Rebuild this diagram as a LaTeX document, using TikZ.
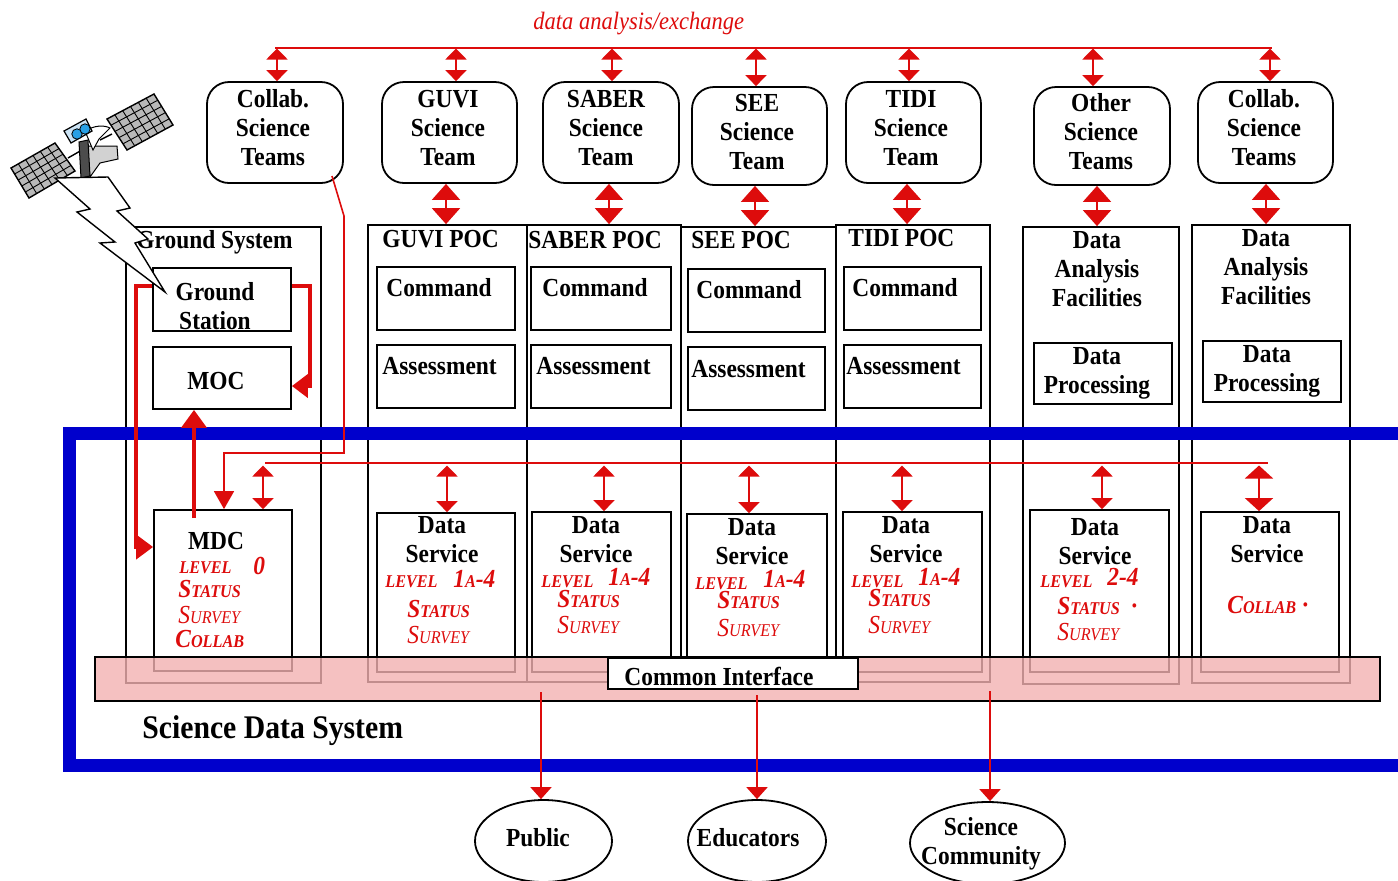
\documentclass[tikz,border=0pt]{standalone}
\usepackage{fontspec}
\setmainfont{Liberation Serif}[FakeStretch=0.9]
\usetikzlibrary{arrows.meta,fit,calc,shapes.geometric}
\definecolor{myred}{RGB}{221,12,12}
\definecolor{myblue}{RGB}{0,0,204}
\definecolor{pinkc}{RGB}{242,177,177}
\definecolor{panelgray}{RGB}{185,185,185}
\definecolor{satblue}{RGB}{40,160,230}
\definecolor{satlblue}{RGB}{205,228,245}
\newcommand\lblfont{\bfseries\fontsize{13}{14.5}\selectfont}
\newcommand\bigsc{\fontsize{13}{14}\selectfont}
\newcommand\smsc{\fontsize{9}{10}\selectfont}
\newcommand\rlevel{{\smsc LEVEL}}
\newcommand\ronea{{\bigsc 1}{\smsc A}{\bigsc -4}}
\newcommand\rstatus{{\bigsc S}{\smsc TATUS}}
\newcommand\rsurvey{{\mdseries\bigsc S}{\mdseries\smsc URVEY}}
\newcommand\rcollab{{\bigsc C}{\smsc OLLAB}}
\begin{document}
\begin{tikzpicture}[x=0.5pt,y=-0.5pt,
  col/.style={draw=black,line width=0.9pt,inner sep=0pt},
  box/.style={draw=black,line width=0.9pt,inner sep=0pt,fill=white},
  team/.style={draw=black,line width=0.9pt,inner sep=0pt,fill=white,rounded corners=11pt},
  lbl/.style={font=\lblfont,align=center,inner sep=0pt},
  lblw/.style={font=\lblfont,inner sep=0pt,anchor=base west},
  rtxt/.style={text=myred,font=\bfseries\itshape,inner sep=0pt,anchor=base west},
  thinr/.style={draw=myred,line width=1pt},
  thickr/.style={draw=myred,line width=2pt},
  dbls/.style={thinr,{Triangle[width=10.5pt,length=5.5pt]}-{Triangle[width=10.5pt,length=5.5pt]}},
  dblm/.style={thinr,{Triangle[width=14pt,length=6.5pt]}-{Triangle[width=14pt,length=6.5pt]}},
  dbll/.style={thinr,{Triangle[width=14pt,length=8pt]}-{Triangle[width=14pt,length=8pt]}},
  dnarrow/.style={thinr,-{Triangle[width=10.5pt,length=6pt]}},
  oval/.style={draw=black,line width=0.9pt,ellipse,inner sep=0pt,fill=white},
  pgrid/.style={draw=black,line width=0.45pt}
]
\useasboundingbox (0,0) rectangle (1398,880);

% ---------- columns ----------
\node[col, fit={(126,227)(321,683)}] (gsys) {};
\node[col, fit={(368,225)(527,682)}] (cguvi) {};
\node[col, fit={(527,225)(681,682)}] (csaber) {};
\node[col, fit={(681,227)(836,682)}] (csee) {};
\node[col, fit={(836,225)(990,682)}] (ctidi) {};
\node[col, fit={(1023,227)(1179,684)}] (cdaf1) {};
\node[col, fit={(1192,225)(1350,683)}] (cdaf2) {};

% ---------- inner boxes ----------
\node[box, fit={(153,268)(291,331)}] (gst) {};
\node[box, fit={(153,347)(291,409)}] (moc) {};
\node[box, fit={(377,267)(515,330)}] (cmd1) {};
\node[box, fit={(377,345)(515,408)}] (asm1) {};
\node[box, fit={(531,267)(671,330)}] (cmd2) {};
\node[box, fit={(531,345)(671,408)}] (asm2) {};
\node[box, fit={(688,269)(825,332)}] (cmd3) {};
\node[box, fit={(688,347)(825,410)}] (asm3) {};
\node[box, fit={(844,267)(981,330)}] (cmd4) {};
\node[box, fit={(844,345)(981,408)}] (asm4) {};
\node[box, fit={(1034,343)(1172,404)}] (dp1) {};
\node[box, fit={(1203,341)(1341,402)}] (dp2) {};

% ---------- data service boxes ----------
\node[box, fit={(154,510)(292,671)}] (mdc) {};
\node[box, fit={(377,513)(515,672)}] (ds1) {};
\node[box, fit={(532,512)(671,672)}] (ds2) {};
\node[box, fit={(687,514)(827,672)}] (ds3) {};
\node[box, fit={(843,512)(982,672)}] (ds4) {};
\node[box, fit={(1030,510)(1169,672)}] (ds5) {};
\node[box, fit={(1201,512)(1339,672)}] (ds6) {};

% ---------- team boxes ----------
\node[team, fit={(207,82)(343,183)}] (t1) {};
\node[team, fit={(382,82)(517,183)}] (t2) {};
\node[team, fit={(543,82)(679,183)}] (t3) {};
\node[team, fit={(692,87)(827,185)}] (t4) {};
\node[team, fit={(846,82)(981,183)}] (t5) {};
\node[team, fit={(1034,87)(1170,185)}] (t6) {};
\node[team, fit={(1198,82)(1333,183)}] (t7) {};

% ---------- science data system frame ----------
\draw[myblue, line width=6.5pt] (69.5,433) rectangle (1406,765.5);
\node[fit={(95,657)(1380,701)}, inner sep=0pt, fill=pinkc, fill opacity=0.8, draw=black, line width=0.9pt] (band) {};
\node[box, fit={(608,658)(858,689)}] (ci) {};

% ---------- texts ----------
\node[inner sep=0pt, anchor=base west, text=myred, font=\itshape\fontsize{12.5}{14}\selectfont] (dax) at (533,29) {data analysis/exchange};

\node[lbl] at (273,128) {Collab.\\Science\\Teams};
\node[lbl] at (448,128) {GUVI\\Science\\Team};
\node[lbl] at (606,128) {SABER\\Science\\Team};
\node[lbl] at (757,132) {SEE\\Science\\Team};
\node[lbl] at (911,128) {TIDI\\Science\\Team};
\node[lbl] at (1101,132) {Other\\Science\\Teams};
\node[lbl] at (1264,128) {Collab.\\Science\\Teams};

\node[lblw] at (136,248) {Ground System};
\node[lblw] at (382,247) {GUVI POC};
\node[lblw] at (528,248) {SABER POC};
\node[lblw] at (691,248) {SEE POC};
\node[lblw] at (848,246) {TIDI POC};
\node[lbl] at (1097,269) {Data\\Analysis\\Facilities};
\node[lbl] at (1266,267) {Data\\Analysis\\Facilities};

\node[lbl] at (215,306) {Ground\\Station};
\node[lbl] at (216,381) {MOC};
\node[lblw] at (386,296) {Command};
\node[lblw] at (542,296) {Command};
\node[lblw] at (696,298) {Command};
\node[lblw] at (852,296) {Command};
\node[lblw] at (382,374) {Assessment};
\node[lblw] at (536,374) {Assessment};
\node[lblw] at (691,377) {Assessment};
\node[lblw] at (846,374) {Assessment};
\node[lbl] at (1097,373) {Data\\Processing};
\node[lbl] at (1267,371) {Data\\Processing};

% MDC
\node[lbl] at (216,541) {MDC};
\node[rtxt] at (179,573) {\rlevel};
\node[rtxt] at (253,574) {\bigsc 0};
\node[rtxt] at (178,597) {\rstatus};
\node[rtxt] at (178,623) {\rsurvey};
\node[rtxt] at (175,647) {\rcollab};
% GUVI
\node[lbl] at (442,540) {Data\\Service};
\node[rtxt] at (385,587) {\rlevel};
\node[rtxt] at (453,587) {\ronea};
\node[rtxt] at (407,617) {\rstatus};
\node[rtxt] at (407,643) {\rsurvey};
% SABER
\node[lbl] at (596,540) {Data\\Service};
\node[rtxt] at (541,587) {\rlevel};
\node[rtxt] at (608,585) {\ronea};
\node[rtxt] at (557,607) {\rstatus};
\node[rtxt] at (557,633) {\rsurvey};
% SEE
\node[lbl] at (752,542) {Data\\Service};
\node[rtxt] at (695,589) {\rlevel};
\node[rtxt] at (763,587) {\ronea};
\node[rtxt] at (717,608) {\rstatus};
\node[rtxt] at (717,636) {\rsurvey};
% TIDI
\node[lbl] at (906,540) {Data\\Service};
\node[rtxt] at (851,587) {\rlevel};
\node[rtxt] at (918,585) {\ronea};
\node[rtxt] at (868,606) {\rstatus};
\node[rtxt] at (868,633) {\rsurvey};
% level 2-4
\node[lbl] at (1095,542) {Data\\Service};
\node[rtxt] at (1040,587) {\rlevel};
\node[rtxt] at (1107,585) {\bigsc 2-4};
\node[rtxt] at (1057,614) {\rstatus};
\node[rtxt] at (1131,614) {\bigsc ·};
\node[rtxt] at (1057,640) {\rsurvey};
% collab
\node[lbl] at (1267,540) {Data\\Service};
\node[rtxt] at (1227,613) {\rcollab};
\node[rtxt] at (1302,613) {\bigsc ·};

\node[lblw] at (624,685) {Common Interface};
\node[inner sep=0pt, anchor=base west, font=\bfseries\fontsize{16.5}{18}\selectfont] (sds) at (142,738) {Science Data System};

% ---------- outer ellipses ----------
\node[oval, minimum width=68.5pt, minimum height=41pt] (pub) at (543.5,841) {};
\node[oval, minimum width=69pt, minimum height=41pt] (edu) at (757,841) {};
\node[oval, minimum width=77.5pt, minimum height=41pt] (sci) at (987.5,843) {};
\node[lbl] at (538,838) {Public};
\node[lbl] at (748,838) {Educators};
\node[lbl] at (981,844) {Science\\Community};

% ---------- red connectors ----------
\coordinate (tl) at (275,47.5);
\coordinate (tr) at (1272,47.5);
\draw[thinr] (tl) -- (tr);
\draw[dbls] (277,48.5) -- (t1.north -| 277,0);
\draw[dbls] (456,48.5) -- (t2.north -| 456,0);
\draw[dbls] (612,48.5) -- (t3.north -| 612,0);
\draw[dbls] (756,48.5) -- (t4.north -| 756,0);
\draw[dbls] (909,48.5) -- (t5.north -| 909,0);
\draw[dbls] (1093,48.5) -- (t6.north -| 1093,0);
\draw[dbls] (1270,48.5) -- (t7.north -| 1270,0);

\draw[dbll] (t2.south -| 446,0) -- (cguvi.north -| 446,0);
\draw[dbll] (t3.south -| 609,0) -- (csaber.north -| 609,0);
\draw[dbll] (t4.south -| 755,0) -- (csee.north -| 755,0);
\draw[dbll] (t5.south -| 907,0) -- (ctidi.north -| 907,0);
\draw[dbll] (t6.south -| 1097,0) -- (cdaf1.north -| 1097,0);
\draw[dbll] (t7.south -| 1266,0) -- (cdaf2.north -| 1266,0);

% ground system internal
\draw[thickr, -{Triangle[width=12pt,length=8.5pt]}] (gst.west |- 0,286) -| (136,547) -- (mdc.west |- 0,547);
\draw[thickr, -{Triangle[width=11.5pt,length=8pt]}] (gst.east |- 0,286) -| (310,386) -- (moc.east |- 0,386);
\coordinate (mdcin) at (194,518);
\draw[thickr, -{Triangle[width=12.5pt,length=9pt]}] (mdcin) -- (moc.south -| mdcin);

% collab teams to MDC
\coordinate (c1) at (332,176);
\draw[thinr, line width=0.8pt, -{Triangle[width=10pt,length=9pt]}] (c1) -- (344,216) -- (344,453) -- (224,453) -- (mdc.north -| 224,0);

% data service bus
\coordinate (dl) at (265,463);
\coordinate (dr) at (1268,463);
\draw[thinr] (dl) -- (dr);
\draw[dbls] (263,465.5) -- (mdc.north -| 263,0);
\draw[dbls] (447,465.5) -- (ds1.north -| 447,0);
\draw[dbls] (604,465.5) -- (ds2.north -| 604,0);
\draw[dbls] (749,465.5) -- (ds3.north -| 749,0);
\draw[dbls] (902,465.5) -- (ds4.north -| 902,0);
\draw[dbls] (1102,465.5) -- (ds5.north -| 1102,0);
\draw[dblm] (1259,465.5) -- (ds6.north -| 1259,0);

% to users
\draw[dnarrow] (541,692) -- (pub.north -| 541,0);
\draw[dnarrow] (757,695) -- (edu.north -| 757,0);
\draw[dnarrow] (990,691) -- (sci.north -| 990,0);

% ---------- satellite ----------
\coordinate (A) at (11,168); \coordinate (B) at (55,143);
\coordinate (C) at (75,171); \coordinate (D) at (29,198);
\filldraw[fill=panelgray, pgrid, line width=0.7pt] (A)--(B)--(C)--(D)--cycle;
\foreach \t in {0.1667,0.3333,0.5,0.6667,0.8333} \draw[pgrid] ($(A)!\t!(B)$) -- ($(D)!\t!(C)$);
\foreach \t in {0.2,0.4,0.6,0.8} \draw[pgrid] ($(A)!\t!(D)$) -- ($(B)!\t!(C)$);
\coordinate (E) at (107,119); \coordinate (F) at (154,94);
\coordinate (G) at (173,125); \coordinate (H) at (127,150);
\filldraw[fill=panelgray, pgrid, line width=0.7pt] (E)--(F)--(G)--(H)--cycle;
\foreach \t in {0.1667,0.3333,0.5,0.6667,0.8333} \draw[pgrid] ($(E)!\t!(F)$) -- ($(H)!\t!(G)$);
\foreach \t in {0.2,0.4,0.6,0.8} \draw[pgrid] ($(E)!\t!(H)$) -- ($(F)!\t!(G)$);
\draw[line width=0.7pt] (68,158) -- (82,150);
\draw[line width=0.7pt] (100,140) -- (112,134);
\filldraw[fill=gray!35, draw=black, line width=0.5pt] (87,146) -- (117,146) -- (118,159) -- (100,163) -- (90,177) -- cycle;
\filldraw[fill=gray!60!black, draw=black, line width=0.5pt] (79,142) -- (88,140) -- (90,176) -- (81,178) -- cycle;
\filldraw[fill=white, draw=black, line width=0.5pt] (85,131) .. controls (95,125) and (104,125) .. (110,128) -- (99,139) -- (93,150) -- cycle;
\filldraw[fill=satlblue, draw=black, line width=0.6pt] (64,131) -- (86,119) -- (92,131) -- (71,143) -- cycle;
\filldraw[fill=satblue, draw=black, line width=0.4pt] (77,134) circle[radius=2.6pt];
\filldraw[fill=satblue, draw=black, line width=0.4pt] (85,129) circle[radius=2.6pt];

% lightning bolt
\filldraw[fill=white, draw=black, line width=0.7pt] (55,178) -- (108,177) -- (130,208) -- (117,211) -- (148,239) -- (135,243) -- (165,292) -- (100,243) -- (115,242) -- (77,212) -- (90,209) -- cycle;
\end{tikzpicture}
\end{document}
